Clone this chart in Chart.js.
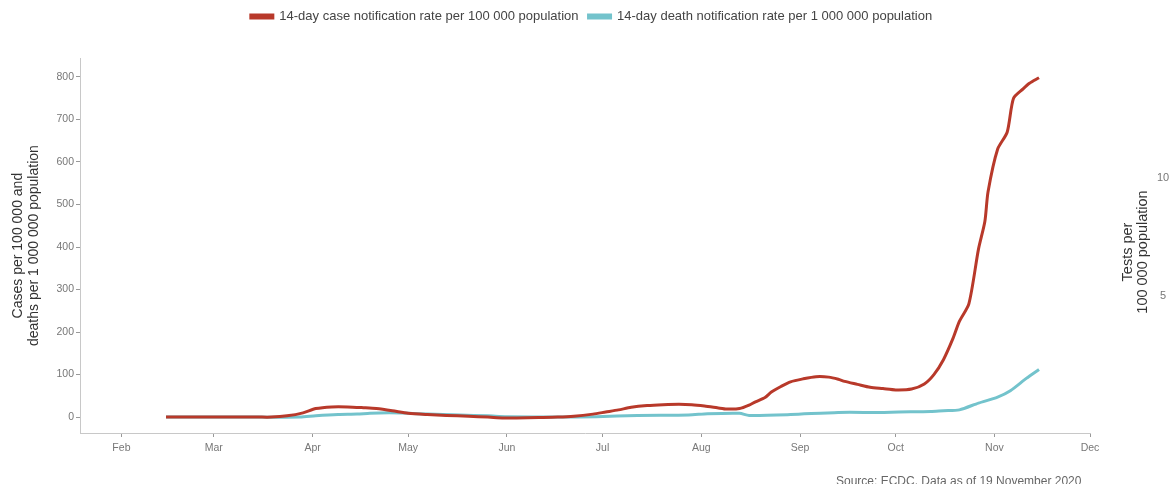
<!DOCTYPE html>
<html>
<head>
<meta charset="utf-8">
<script src="https://cdn.jsdelivr.net/npm/chart.js@4.4.1/dist/chart.umd.min.js"></script>
<style>
  html, body { margin: 0; padding: 0; background: #fff; overflow: hidden; }
  #wrap { position: relative; width: 1173px; height: 484px; }
  .side { position: absolute; font-family: "Liberation Sans", Arial, sans-serif; color: #333; }
  #testsTitle { left: 1135px; top: 252px; transform: translate(-50%, -50%) rotate(-90deg); font-size: 14.5px; line-height: 15px; text-align: center; white-space: nowrap; }
  .rtick { font-size: 11px; color: #777; }
  #note { left: 836px; top: 474px; font-size: 12px; color: #666; white-space: nowrap; }
</style>
</head>
<body>
<div id="wrap">
  <canvas id="grafico"></canvas>
  <div class="side" id="testsTitle">Tests per<br>100 000 population</div>
  <div class="side rtick" style="left:1157px; top:171px;">10</div>
  <div class="side rtick" style="left:1160px; top:289px;">5</div>
  <div class="side" id="note">Source: ECDC. Data as of 19 November 2020</div>
</div>
<script>
// x values are day of year 2020 (Feb 1 = 32, Dec 1 = 336)
const mesesDia = [32, 61, 92, 122, 153, 183, 214, 245, 275, 306, 336];
const mesesNome = ['Feb', 'Mar', 'Apr', 'May', 'Jun', 'Jul', 'Aug', 'Sep', 'Oct', 'Nov', 'Dec'];
const yTicks = [0, 100, 200, 300, 400, 500, 600, 700, 800];

const casosDia = [46, 55, 65, 75, 79, 84, 89, 93, 98, 103, 108, 112, 117, 122, 128, 134, 141, 147, 152, 156, 163, 169,
  174, 180, 184, 188, 192, 197, 202, 207, 211, 215, 219, 222, 226, 229, 231, 234, 236, 239, 242, 246, 250, 254, 257,
  259, 263, 267, 271, 275, 280, 284, 287, 290, 293, 295, 298, 301, 303, 304, 307, 310, 312, 315, 317, 320];
const casosValor = [0, 0, 0, 0, 0, 3, 10, 20, 24, 24, 22, 20, 15, 9, 6, 4, 2, 0, -2, -2, -1, 0,
  2, 7, 12, 17, 23, 27, 29, 30, 29, 26, 22, 19, 20, 28, 36, 46, 59, 72, 83, 90, 95, 94, 89,
  84, 77, 70, 67, 64, 66, 78, 100, 135, 185, 225, 267, 395, 460, 530, 630, 670, 750, 772, 785, 798];

const obitosDia = [46, 60, 75, 88, 93, 100, 106, 110, 116, 122, 128, 138, 147, 153, 169, 181, 194, 210, 216, 226, 229,
  242, 257, 270, 276, 286, 290, 295, 301, 307, 311, 316, 320];
const obitosValor = [0, 0, 0, 0, 3, 6, 7, 9, 10, 9, 7, 5, 3, 1, 0, 1, 4, 5, 8, 9, 4,
  6, 11, 11, 12, 13, 15, 17, 33, 47, 62, 91, 112];

function pares(xs, ys) {
  return xs.map((x, i) => ({ x: x, y: ys[i] }));
}

const fonte = '"Liberation Sans", Arial, sans-serif';

new Chart(document.getElementById('grafico').getContext('2d'), {
  type: 'line',
  data: {
    datasets: [
      {
        label: '14-day case notification rate per 100 000 population',
        data: pares(casosDia, casosValor),
        borderColor: '#b8392a',
        backgroundColor: '#b8392a',
        borderWidth: 3,
        pointRadius: 0,
        tension: 0.25
      },
      {
        label: '14-day death notification rate per 1 000 000 population',
        data: pares(obitosDia, obitosValor),
        borderColor: '#73c3cc',
        backgroundColor: '#73c3cc',
        borderWidth: 3,
        pointRadius: 0,
        tension: 0.25
      }
    ]
  },
  options: {
    responsive: true,
    maintainAspectRatio: false,
    animation: false,
    layout: { padding: { left: 10, right: 0, top: 0, bottom: 0 } },
    plugins: {
      tooltip: { enabled: false },
      // empty title used only as a spacer between legend and plot
      title: {
        display: true,
        text: '',
        weight: 500,
        font: { size: 1 },
        padding: { top: 0, bottom: 24 }
      },
      legend: {
        position: 'top',
        labels: {
          boxWidth: 22,
          boxHeight: 3,
          padding: 10,
          color: '#444',
          font: { family: fonte, size: 13 }
        }
      }
    },
    scales: {
      x: {
        type: 'linear',
        min: 19,
        max: 336,
        afterBuildTicks: s => { s.ticks = mesesDia.map(v => ({ value: v })); },
        afterFit: s => { s.height = 51; },
        ticks: {
          color: '#777',
          font: { family: fonte, size: 10.5 },
          padding: 5,
          maxRotation: 0,
          callback: v => mesesNome[mesesDia.indexOf(v)]
        },
        grid: { display: true, drawOnChartArea: false, drawTicks: true, tickLength: 4, color: '#999' },
        border: { color: '#c8c8c8', width: 1 }
      },
      y: {
        min: -37.4,
        max: 844,
        afterBuildTicks: s => { s.ticks = yTicks.map(v => ({ value: v })); },
        afterFit: s => { s.width = 70; },
        ticks: {
          color: '#777',
          font: { family: fonte, size: 10.5 },
          padding: 2
        },
        grid: { display: true, drawOnChartArea: false, drawTicks: true, tickLength: 4, color: '#999' },
        border: { color: '#c8c8c8', width: 1 },
        title: {
          display: true,
          text: ['Cases per 100 000 and', 'deaths per 1 000 000 population'],
          color: '#333',
          font: { family: fonte, size: 14, lineHeight: 1.15 },
          padding: { top: 0, bottom: 4 }
        }
      },
      yRight: {
        position: 'right',
        display: true,
        afterFit: s => { s.width = 83; },
        ticks: { display: false },
        grid: { display: false },
        border: { display: false }
      }
    }
  }
});
</script>
</body>
</html>
